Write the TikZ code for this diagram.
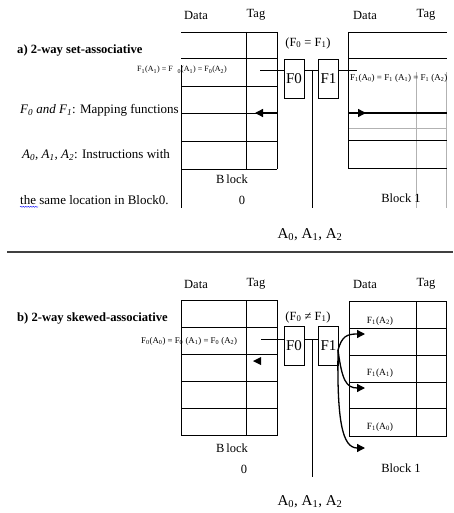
\documentclass[tikz,border=0pt]{standalone}
\usepackage{fontspec}
\setmainfont{Liberation Serif}
\usetikzlibrary{arrows.meta,decorations.pathmorphing}
\begin{document}
\begin{tikzpicture}[x=1pt,y=-1pt,
  grid/.style={draw=black,line width=0.8pt},
  gridgray/.style={draw=black!30,line width=0.8pt},
  lbl/.style={font=\fontsize{12.5}{14}\selectfont,inner sep=0pt},
  desc/.style={font=\fontsize{13}{15}\selectfont,inner sep=0pt,anchor=west},
  ttl/.style={font=\bfseries\fontsize{12.6}{14}\selectfont,inner sep=0pt,anchor=west},
  tiny/.style={font=\fontsize{8}{9}\selectfont,inner sep=0pt,anchor=west},
  smalll/.style={font=\fontsize{9.5}{11}\selectfont,inner sep=0pt},
  big/.style={font=\fontsize{15}{17}\selectfont,inner sep=0pt},
  fbx/.style={draw,line width=0.8pt,minimum width=20pt,minimum height=39pt,inner sep=0pt,font=\fontsize{15}{17}\selectfont},
  conn/.style={line width=0.8pt},
  arr/.style={line width=1.3pt,-{Triangle[length=8pt,width=8pt]}},
]
\useasboundingbox[fill=white] (0,0) rectangle (453,513);

% ================= part a =================
\node[lbl] (dataa0) at (196,15) {Data};
\node[lbl] (taga0) at (256,15) {Tag};
\node[lbl] (dataa1) at (365,15) {Data};
\node[lbl] (taga1) at (426,15) {Tag};
\node[ttl] (titlea) at (17,50) {a) 2-way set-associative};
\node[desc] (fdesc) at (20,110) {\textit{F\textsubscript{0} and F\textsubscript{1}}: Mapping functions};
\node[desc] (adesc) at (22,155) {\textit{A\textsubscript{0}, A\textsubscript{1}, A\textsubscript{2}}: Instructions with};
\node[desc] (adesc2) at (20,200) {the same location in Block0.};
\draw[blue,decorate,decoration={snake,amplitude=0.5pt,segment length=2.5pt}]
  ([yshift=-2pt]adesc2.south west) -- ++(18,0);

% block 0 grid (a)
\draw[grid] (181,32) -- (277,32);
\draw[grid] (181,58) -- (277,58);
\draw[grid] (181,86) -- (277,86);
\draw[grid] (181,113) -- (277,113);
\draw[grid] (181,141) -- (277,141);
\draw[grid] (181,169) -- (277,169);
\draw[grid] (246,32) -- (246,169);
\draw[grid] (277,32) -- (277,169);
\draw[grid] (181,65) -- (181,208);
\node[tiny] (fa0) at (137,70) {F\textsubscript{1}(A\textsubscript{1}) = F\hspace{5pt}\textsubscript{0}(A\textsubscript{1}) = F\textsubscript{0}(A\textsubscript{2})};
\coordinate (arra0s) at (277,113);
\coordinate (arra0e) at (255,113);
\draw[arr] (arra0s) -- (arra0e);

% mapping functions (a)
\node[lbl] (eqa) at (308,43) {(F\textsubscript{0} = F\textsubscript{1})};
\node[fbx] (f0a) at (294,78.5) {F0};
\node[fbx] (f1a) at (328.5,78.5) {F1};
\coordinate (ina) at (260,70);
\coordinate (outa) at (357,70);
\coordinate (ja) at (312,70);
\coordinate (jab) at (312,208);
\draw[conn] (ina) -- (ina -| f0a.west);
\draw[conn] (f0a.east |- ina) -- (f1a.west |- ina);
\draw[conn] (f1a.east |- ina) -- (outa);
\draw[conn] (ja) -- (jab);

% block 1 grid (a)
\draw[gridgray] (416,72) -- (416,208);
\draw[gridgray] (446,72) -- (446,208);
\draw[gridgray] (348,128) -- (447,128);
\draw[grid] (348,32) -- (447,32);
\draw[grid] (348,58) -- (447,58);
\draw[grid] (348,140) -- (447,140);
\draw[grid] (348,168) -- (447,168);
\draw[grid] (348,32) -- (348,168);
\draw[line width=1.1pt] (348,113) -- (447,113);
\coordinate (arra1s) at (348,113);
\coordinate (arra1e) at (366,113);
\draw[arr] (arra1s) -- (arra1e);
\node[tiny,font=\fontsize{9}{10}\selectfont] (fa1) at (350,78) {F\textsubscript{1}(A\textsubscript{0}) = F\textsubscript{1} (A\textsubscript{1}) = F\textsubscript{1} (A\textsubscript{2})};

\node[lbl] (blk0a) at (232,179) {B\,lock};
\node[lbl] (zeroa) at (242,200) {0};
\node[lbl] (blk1a) at (401,198) {Block 1};
\node[big] (addra) at (310,235) {A\textsubscript{0}, A\textsubscript{1}, A\textsubscript{2}};

\draw[line width=1.5pt,black!75] (7,252) -- (453,252);

% ================= part b =================
\node[lbl] (datab0) at (196,284) {Data};
\node[lbl] (tagb0) at (256,284) {Tag};
\node[lbl] (datab1) at (365,284) {Data};
\node[lbl] (tagb1) at (426,284) {Tag};
\node[ttl] (titleb) at (17,318) {b) 2-way skewed-associative};

% block 0 grid (b)
\draw[grid] (181,300) rectangle (277,435);
\draw[grid] (181,327) -- (277,327);
\draw[grid] (181,354) -- (277,354);
\draw[grid] (181,381) -- (277,381);
\draw[grid] (181,408) -- (277,408);
\draw[grid] (246,300) -- (246,435);
\begin{scope}
\clip (100,300) rectangle (245,435);
\node[tiny,font=\fontsize{8.8}{10}\selectfont] (fb0) at (141,341) {F\textsubscript{0}(A\textsubscript{0}) = F\textsubscript{0} (A\textsubscript{1}) = F\textsubscript{0} (A\textsubscript{2})};
\end{scope}
\fill (253,361) -- (261,357) -- (261,365) -- cycle;

% mapping functions (b)
\node[lbl] (eqb) at (308,317) {(F\textsubscript{0} ≠ F\textsubscript{1})};
\node[fbx] (f0b) at (294,346) {F0};
\node[fbx] (f1b) at (328.5,346) {F1};
\coordinate (inb) at (261,339);
\coordinate (jb) at (312,339);
\coordinate (jbb) at (312,477);
\draw[conn] (inb) -- (inb -| f0b.west);
\draw[conn] (f0b.east |- inb) -- (f1b.west |- inb);
\draw[conn] (jb) -- (jbb);

% block 1 grid (b)
\draw[grid] (349,301) rectangle (446,436);
\draw[grid] (349,328) -- (446,328);
\draw[grid] (349,355) -- (446,355);
\draw[grid] (349,382) -- (446,382);
\draw[grid] (349,408) -- (446,408);
\draw[grid] (416,301) -- (416,436);
\node[smalll] (fb12) at (380,321) {F\textsubscript{1}(A\textsubscript{2})};
\node[smalll] (fb11) at (380,373) {F\textsubscript{1}(A\textsubscript{1})};
\node[smalll] (fb10) at (380,427) {F\textsubscript{1}(A\textsubscript{0})};

\coordinate (cs) at (338,350);
\coordinate (t1) at (365,334);
\coordinate (t2) at (365,388);
\coordinate (t3) at (365,448);
\draw[arr] (cs) .. controls (342,336) and (347,334) .. (t1);
\draw[arr] (cs) .. controls (342,380) and (346,388) .. (t2);
\draw[arr] (cs) .. controls (337,420) and (342,448) .. (t3);

\node[lbl] (blk0b) at (232,448) {B\,lock};
\node[lbl] (zerob) at (244,469) {0};
\node[lbl] (blk1b) at (401,468) {Block 1};
\node[big] (addrb) at (310,502) {A\textsubscript{0}, A\textsubscript{1}, A\textsubscript{2}};
\end{tikzpicture}
\end{document}
